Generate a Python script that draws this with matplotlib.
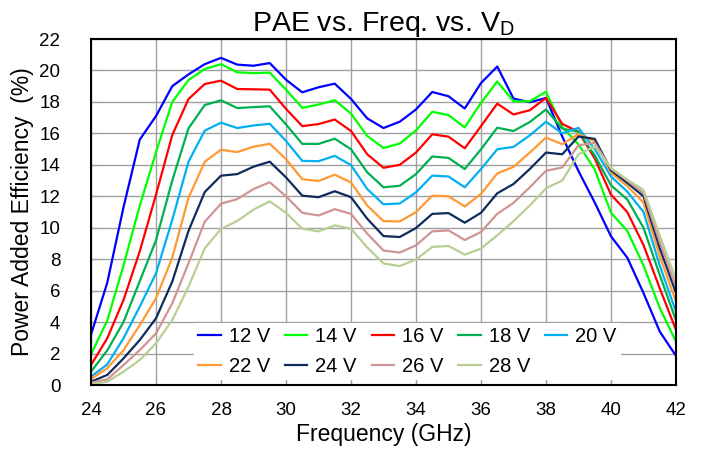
import matplotlib
matplotlib.use("Agg")
import matplotlib.pyplot as plt
import numpy as np

plt.rcParams['font.family'] = ['Liberation Sans', 'DejaVu Sans']

freq = [24 + 0.5 * i for i in range(37)]

v12 = [3.2, 6.5, 11.3, 15.6, 17.1, 19.0, 19.75, 20.4, 20.8, 20.37, 20.3, 20.47,
       19.41, 18.61, 18.93, 19.16, 18.19, 16.95, 16.34, 16.74, 17.52, 18.63, 18.36, 17.58,
       19.2, 20.25, 18.21, 17.98, 18.25, 15.8, 13.6, 11.6, 9.45, 8.1, 5.85, 3.4, 1.85]
v14 = [1.95, 4.1, 7.6, 11.4, 14.8, 18.0, 19.39, 20.09, 20.4, 19.88, 19.83, 19.86,
       18.78, 17.62, 17.83, 18.11, 17.26, 15.83, 15.07, 15.35, 16.19, 17.37, 17.16, 16.38,
       17.94, 19.3, 18.04, 18.04, 18.65, 16.4, 15.3, 13.7, 10.95, 9.8, 7.6, 4.9, 2.75]
v16 = [1.27, 2.97, 5.4, 8.5, 12.1, 15.89, 18.18, 19.14, 19.35, 18.82, 18.8, 18.78,
       17.56, 16.46, 16.59, 16.88, 16.15, 14.67, 13.81, 14.0, 14.78, 15.94, 15.79, 15.05,
       16.46, 17.89, 17.2, 17.47, 18.25, 16.6, 16.1, 14.4, 12.1, 11.0, 8.9, 6.15, 3.5]
v18 = [0.85, 2.2, 4.0, 6.6, 9.2, 13.0, 16.32, 17.8, 18.1, 17.61, 17.67, 17.72,
       16.57, 15.33, 15.33, 15.66, 14.99, 13.52, 12.57, 12.67, 13.41, 14.53, 14.44, 13.73,
       14.99, 16.36, 16.15, 16.72, 17.52, 16.3, 16.1, 14.6, 12.7, 11.8, 10.0, 7.0, 4.1]
v20 = [0.53, 1.31, 2.97, 4.98, 7.1, 10.5, 14.2, 16.17, 16.68, 16.34, 16.5, 16.61,
       15.52, 14.25, 14.23, 14.57, 13.98, 12.46, 11.49, 11.54, 12.25, 13.31, 13.26, 12.57,
       13.73, 14.99, 15.14, 15.87, 16.74, 16.0, 16.35, 15.0, 13.26, 12.3, 11.0, 7.6, 4.65]
v22 = [0.38, 1.06, 2.22, 3.81, 5.51, 8.1, 11.9, 14.2, 14.96, 14.81, 15.15, 15.34,
       14.36, 13.09, 12.97, 13.37, 12.88, 11.41, 10.42, 10.4, 10.99, 12.04, 12.0, 11.35,
       12.15, 13.45, 13.87, 14.78, 15.73, 15.31, 15.95, 15.5, 13.5, 12.65, 11.6, 8.2, 5.3]
v24 = [0.21, 0.64, 1.69, 2.86, 4.24, 6.57, 9.8, 12.27, 13.31, 13.41, 13.88, 14.2,
       13.2, 12.04, 11.94, 12.32, 11.94, 10.57, 9.47, 9.41, 9.98, 10.88, 10.93, 10.32,
       10.95, 12.19, 12.78, 13.73, 14.78, 14.67, 15.8, 15.65, 13.65, 12.85, 12.0, 8.7, 5.85]
v26 = [0.15, 0.36, 1.27, 2.22, 3.28, 5.19, 7.74, 10.38, 11.53, 11.82, 12.46, 12.89,
       12.0, 10.95, 10.78, 11.18, 10.88, 9.62, 8.55, 8.42, 8.88, 9.77, 9.83, 9.22,
       9.73, 10.88, 11.58, 12.57, 13.62, 13.83, 15.24, 15.4, 13.75, 13.0, 12.2, 9.1, 6.25]
v28 = [0.06, 0.21, 0.85, 1.59, 2.65, 4.13, 6.25, 8.69, 9.92, 10.43, 11.15, 11.68,
       10.95, 9.94, 9.77, 10.15, 9.94, 8.74, 7.73, 7.56, 7.98, 8.78, 8.84, 8.29,
       8.67, 9.52, 10.42, 11.41, 12.51, 13.0, 14.67, 15.16, 13.8, 13.05, 12.4, 9.5, 6.7]

labels = ['12 V', '14 V', '16 V', '18 V', '20 V', '22 V', '24 V', '26 V', '28 V']
series = [v12, v14, v16, v18, v20, v22, v24, v26, v28]
colors = ['#0000FF', '#00FF00', '#FF0000', '#00B050', '#00B0F0',
          '#FF9933', '#0F2A5C', '#D09494', '#B8CF94']

fig = plt.figure(figsize=(7.02, 4.5), dpi=100)
ax = fig.add_axes([91 / 702, 65 / 450, 585 / 702, 346 / 450])

handles = []
for y, lab, c in zip(series, labels, colors):
    h, = ax.plot(freq, y, color=c, lw=1.6, label=lab)
    handles.append(h)

ax.set_xlim(24, 42)
ax.set_ylim(0, 22)
ax.set_xticks(np.arange(24, 43, 2))
ax.set_yticks(np.arange(0, 23, 2))
ax.grid(True, color='#A0A0A0', lw=1.0)
ax.set_axisbelow(True)
for s in ax.spines.values():
    s.set_color('black')
    s.set_linewidth(1.5)
    s.set_zorder(10)
ax.tick_params(axis='both', direction='in', length=4, labelsize=13.5, color='#A0A0A0')
ax.tick_params(axis='x', pad=12)
ax.tick_params(axis='y', pad=22)

ax.set_title('PAE vs. Freq. vs. V$_\\mathregular{D}$', fontsize=20.5, pad=5)
ax.set_xlabel('Frequency (GHz)', fontsize=16.5, labelpad=3)
ax.set_ylabel('Power Added Efficiency  (%)', fontsize=16.5, labelpad=4)

# row-wise ordering for a 5-column legend
order = [0, 5, 1, 6, 2, 7, 3, 8, 4]
leg = ax.legend([handles[i] for i in order], [labels[i] for i in order],
                ncol=5, loc='lower center', bbox_to_anchor=(0.541, -0.014),
                fontsize=14.5, frameon=True, fancybox=False, framealpha=1,
                edgecolor='none', facecolor='white', handlelength=1.1,
                columnspacing=0.75, handletextpad=0.4, borderpad=0.2,
                labelspacing=0.55)

fig.savefig('out.png', dpi=100)
